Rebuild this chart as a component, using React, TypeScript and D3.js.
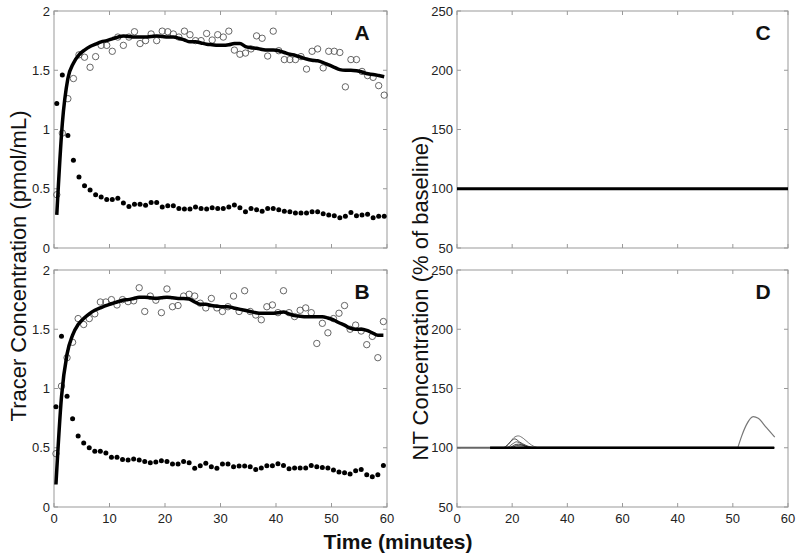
import React from 'react';
import * as d3 from 'd3';

// ---------- data ----------
const xTickValues = [0, 10, 20, 30, 40, 50, 60];
const xTickLabelsLeft = ['0', '10', '20', '30', '40', '50', '60'];
const xTickLabelsRight = ['0', '20', '40', '60', '40', '50', '60'];
const tracerTicks = [0, 0.5, 1, 1.5, 2];
const tracerTickLabels = ['0', '0.5', '1', '1.5', '2'];
const ntTicks = [50, 100, 150, 200, 250];
const ntTickLabels = ['50', '100', '150', '200', '250'];

// sampling times (minutes)
const timesA = d3.range(60).map((i) => i + 0.5);
const timesB = d3.range(60).map((i) => i + 0.35);

const aFilled = [1.22,1.46,0.95,0.74,0.60,0.525,0.49,0.45,0.43,0.41,0.41,0.42,0.38,0.35,0.37,0.37,0.36,0.385,0.385,0.345,0.357,0.357,0.334,0.33,0.33,0.345,0.334,0.33,0.34,0.334,0.334,0.345,0.362,0.34,0.306,0.334,0.323,0.31,0.334,0.334,0.323,0.31,0.306,0.295,0.295,0.295,0.306,0.306,0.29,0.278,0.272,0.256,0.267,0.30,0.272,0.278,0.284,0.256,0.267,0.267];
const aOpen = [0.45,0.97,1.26,1.43,1.63,1.61,1.525,1.615,1.71,1.71,1.66,1.78,1.71,1.78,1.825,1.725,1.75,1.806,1.75,1.83,1.825,1.806,1.78,1.83,1.80,1.75,1.75,1.81,1.755,1.80,1.78,1.83,1.67,1.635,1.645,1.68,1.79,1.77,1.62,1.83,1.665,1.59,1.59,1.59,1.615,1.51,1.66,1.68,1.52,1.66,1.66,1.65,1.36,1.59,1.59,1.49,1.455,1.44,1.37,1.29];
const aFit = [0.28,1.05,1.43,1.56,1.63,1.67,1.70,1.72,1.74,1.75,1.765,1.78,1.79,1.785,1.78,1.78,1.78,1.785,1.79,1.785,1.78,1.78,1.77,1.755,1.74,1.74,1.73,1.72,1.715,1.71,1.71,1.715,1.725,1.725,1.70,1.69,1.685,1.675,1.67,1.67,1.665,1.65,1.635,1.625,1.61,1.595,1.585,1.58,1.565,1.545,1.525,1.505,1.50,1.50,1.495,1.485,1.47,1.465,1.455,1.445];

const bFilled = [0.845,1.44,0.935,0.745,0.60,0.54,0.50,0.47,0.47,0.455,0.42,0.42,0.40,0.396,0.405,0.396,0.385,0.374,0.38,0.39,0.385,0.362,0.362,0.385,0.374,0.326,0.348,0.37,0.34,0.326,0.362,0.362,0.34,0.345,0.345,0.34,0.317,0.33,0.348,0.348,0.365,0.351,0.323,0.33,0.33,0.33,0.351,0.34,0.334,0.33,0.312,0.295,0.29,0.278,0.306,0.317,0.272,0.256,0.272,0.351];
const bOpen = [0.45,1.02,1.26,1.39,1.59,1.54,1.59,1.63,1.73,1.73,1.75,1.705,1.75,1.733,1.74,1.85,1.65,1.78,1.745,1.64,1.84,1.69,1.70,1.78,1.795,1.78,1.72,1.68,1.76,1.68,1.65,1.69,1.78,1.65,1.825,1.65,1.62,1.58,1.69,1.705,1.64,1.825,1.64,1.607,1.66,1.68,1.64,1.38,1.55,1.47,1.59,1.635,1.70,1.50,1.535,1.485,1.37,1.44,1.26,1.565];
const bFit = [0.19,0.93,1.29,1.45,1.54,1.59,1.63,1.66,1.68,1.70,1.715,1.73,1.745,1.75,1.76,1.77,1.77,1.765,1.76,1.765,1.77,1.765,1.76,1.76,1.755,1.73,1.71,1.71,1.70,1.695,1.69,1.69,1.68,1.67,1.66,1.65,1.64,1.635,1.635,1.635,1.64,1.645,1.63,1.615,1.61,1.605,1.605,1.605,1.605,1.595,1.58,1.555,1.535,1.51,1.50,1.50,1.49,1.47,1.45,1.45];

// panel C: NT concentration (flat)
const cTimes = [0, 60];
const cValues = [100, 100];

// panel D: NT concentration curves
const dGrayTimes = [0, 50.9];
const dGrayValues = [100, 100];
const dLateTimes = [50.9, 51.6, 52.5, 53.7, 54.6, 56.1, 57.6];
const dLateValues = [100, 109.8, 119.7, 126.2, 124.8, 116.9, 109];
const dBaseTimes = [6, 57.5];
const dBaseValues = [100, 100];
const dBump1Times = [6, 8.5, 9.5, 10.3, 11.1, 12, 13, 14, 15, 57.5];
const dBump1Values = [100, 100, 104, 108.5, 110, 108, 104, 101, 100, 100];
const dBump2Times = [6, 8.3, 9.3, 10, 10.5, 11.3, 12.5, 13.5, 14.5, 57.5];
const dBump2Values = [100, 100, 103, 106.5, 107.5, 105, 102, 100.5, 100, 100];
const dBump3Times = [6, 9, 10, 10.8, 11.8, 13, 14, 57.5];
const dBump3Values = [100, 100, 103, 105, 103, 100.5, 100, 100];
const dBump4Times = [6, 9.5, 10.5, 11.2, 12, 13.5, 57.5];
const dBump4Values = [100, 100, 102.5, 103, 102, 100, 100];
const dBump5Times = [6, 9.8, 10.8, 12, 13, 57.5];
const dBump5Values = [100, 100, 101.8, 101.5, 100.3, 100];

// ---------- layout ----------
const W = 800;
const H = 559;
const FONT = "'Liberation Sans', Arial, Helvetica, sans-serif";
const LEFT = [54, 387];
const RIGHT = [457, 788];
const TOP = [11, 248];
const BOTTOM = [270, 507];

type PanelProps = {
  xr: number[];
  yr: number[];
  yDomain: [number, number];
  yTicks: number[];
  yLabels: string[];
  xLabels: string[] | null;
  letter: string;
  children: (x: d3.ScaleLinear<number, number>, y: d3.ScaleLinear<number, number>) => React.ReactNode;
};

function Panel({ xr, yr, yDomain, yTicks, yLabels, xLabels, letter, children }: PanelProps) {
  const x = d3.scaleLinear().domain([0, 60]).range([xr[0], xr[1]]);
  const y = d3.scaleLinear().domain(yDomain).range([yr[1], yr[0]]);
  const frame = '#999';
  const tl = 4;
  return (
    <g>
      <rect x={xr[0]} y={yr[0]} width={xr[1] - xr[0]} height={yr[1] - yr[0]} fill="white" stroke={frame} strokeWidth={1} />
      {xTickValues.map((t, i) => (
        <g key={'xt' + i}>
          <line x1={x(t)} x2={x(t)} y1={yr[1]} y2={yr[1] - tl} stroke={frame} />
          <line x1={x(t)} x2={x(t)} y1={yr[0]} y2={yr[0] + tl} stroke={frame} />
          {xLabels && (
            <text x={x(t)} y={yr[1] + 16} textAnchor="middle" fontFamily={FONT} fontSize={13} fill="#222">
              {xLabels[i]}
            </text>
          )}
        </g>
      ))}
      {yTicks.map((t, i) => (
        <g key={'yt' + i}>
          <line x1={xr[0]} x2={xr[0] + tl} y1={y(t)} y2={y(t)} stroke={frame} />
          <line x1={xr[1]} x2={xr[1] - tl} y1={y(t)} y2={y(t)} stroke={frame} />
          <text x={xr[0] - 4} y={y(t)} dy="0.35em" textAnchor="end" fontFamily={FONT} fontSize={13} fill="#222">
            {yLabels[i]}
          </text>
        </g>
      ))}
      {children(x, y)}
      <text x={xr[1] - 25} y={yr[0] + 29} textAnchor="middle" fontFamily={FONT} fontSize={21} fontWeight="bold" fill="#111">
        {letter}
      </text>
    </g>
  );
}

function tracerMarks(times: number[], open: number[], filled: number[], fit: number[]) {
  return (x: d3.ScaleLinear<number, number>, y: d3.ScaleLinear<number, number>) => {
    const line = d3
      .line<number>()
      .x((_, i) => x(times[i]))
      .y((d) => y(d))
      .curve(d3.curveMonotoneX);
    return (
      <g>
        {open.map((v, i) => (
          <circle key={'o' + i} cx={x(times[i])} cy={y(v)} r={3.2} fill="none" stroke="#555" strokeWidth={0.9} />
        ))}
        <path d={line(fit) || ''} fill="none" stroke="#000" strokeWidth={3.5} strokeLinejoin="round" />
        {filled.map((v, i) => (
          <circle key={'f' + i} cx={x(times[i])} cy={y(v)} r={2.5} fill="#000" />
        ))}
      </g>
    );
  };
}

function seriesPath(x: d3.ScaleLinear<number, number>, y: d3.ScaleLinear<number, number>, ts: number[], vs: number[], curve = d3.curveMonotoneX) {
  const line = d3
    .line<number>()
    .x((_, i) => x(ts[i]))
    .y((d) => y(d))
    .curve(curve);
  return line(vs) || '';
}

export default function App() {
  return (
    <svg width={W} height={H} style={{ position: 'absolute', left: 0, top: 0, background: 'white' }}>
      <rect x={0} y={0} width={W} height={H} fill="white" />
      <Panel xr={LEFT} yr={TOP} yDomain={[0, 2]} yTicks={tracerTicks} yLabels={tracerTickLabels} xLabels={null} letter="A">
        {tracerMarks(timesA, aOpen, aFilled, aFit)}
      </Panel>
      <Panel xr={LEFT} yr={BOTTOM} yDomain={[0, 2]} yTicks={tracerTicks} yLabels={tracerTickLabels} xLabels={xTickLabelsLeft} letter="B">
        {tracerMarks(timesB, bOpen, bFilled, bFit)}
      </Panel>
      <Panel xr={RIGHT} yr={TOP} yDomain={[50, 250]} yTicks={ntTicks} yLabels={ntTickLabels} xLabels={null} letter="C">
        {(x, y) => <path d={seriesPath(x, y, cTimes, cValues, d3.curveLinear)} fill="none" stroke="#000" strokeWidth={3} />}
      </Panel>
      <Panel xr={RIGHT} yr={BOTTOM} yDomain={[50, 250]} yTicks={ntTicks} yLabels={ntTickLabels} xLabels={xTickLabelsRight} letter="D">
        {(x, y) => (
          <g fill="none">
            <path d={seriesPath(x, y, dGrayTimes, dGrayValues, d3.curveLinear)} stroke="#666" strokeWidth={2} />
            <path d={seriesPath(x, y, dLateTimes, dLateValues)} stroke="#777" strokeWidth={1.2} />
            <path d={seriesPath(x, y, dBump1Times, dBump1Values)} stroke="#555" strokeWidth={0.8} />
            <path d={seriesPath(x, y, dBump2Times, dBump2Values)} stroke="#222" strokeWidth={0.8} />
            <path d={seriesPath(x, y, dBump3Times, dBump3Values)} stroke="#333" strokeWidth={0.8} />
            <path d={seriesPath(x, y, dBump4Times, dBump4Values)} stroke="#111" strokeWidth={0.8} />
            <path d={seriesPath(x, y, dBump5Times, dBump5Values)} stroke="#111" strokeWidth={0.8} />
            <path d={seriesPath(x, y, dBaseTimes, dBaseValues, d3.curveLinear)} stroke="#000" strokeWidth={2.5} />
          </g>
        )}
      </Panel>
      <text transform="translate(18,266) rotate(-90)" textAnchor="middle" dominantBaseline="central" fontFamily={FONT} fontSize={22} fill="#111">
        Tracer Concentration (pmol/mL)
      </text>
      <text transform="translate(420,298) rotate(-90)" textAnchor="middle" dominantBaseline="central" fontFamily={FONT} fontSize={22} fill="#111">
        NT Concentration (% of baseline)
      </text>
      <text x={398} y={541} textAnchor="middle" dominantBaseline="central" fontFamily={FONT} fontSize={21} fontWeight="bold" fill="#111">
        Time (minutes)
      </text>
    </svg>
  );
}
